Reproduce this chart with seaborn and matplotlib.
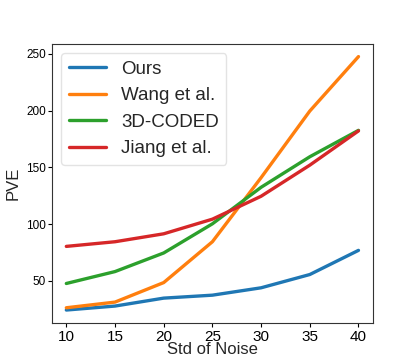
import numpy as np
import pandas as pd
import seaborn as sns
import matplotlib
matplotlib.use("Agg")
import matplotlib.pyplot as plt

noise = [10, 15, 20, 25, 30, 35, 40]
ours = [24.3, 27.8, 34.8, 37.4, 43.9, 55.6, 76.9]
wang = [26.3, 31.3, 48.5, 84.5, 141.0, 199.7, 247.7]
coded = [47.7, 58.2, 74.6, 100.3, 132.5, 159.4, 182.7]
jiang = [80.4, 84.5, 91.5, 104.4, 124.6, 152.0, 182.2]
methods = ["Ours", "Wang et al.", "3D-CODED", "Jiang et al."]

sns.set_style("ticks")
plt.rcParams['font.family'] = ['Liberation Sans', 'DejaVu Sans']

rows = []
for name, vals in zip(methods, [ours, wang, coded, jiang]):
    for x, v in zip(noise, vals):
        rows.append({"Std of Noise": x, "PVE": v, "Method": name})
df = pd.DataFrame(rows)

fig = plt.figure(figsize=(4.15, 3.63), dpi=100)
ax = fig.add_axes([0.1246, 0.111, 0.7744, 0.768])
sns.lineplot(data=df, x="Std of Noise", y="PVE", hue="Method", hue_order=methods,
             palette=["#1f77b4", "#ff7f0e", "#2ca02c", "#d62728"], linewidth=2.4, ax=ax)
ax.set_xticks(noise)
ax.tick_params(axis='x', labelsize=11, colors='black', length=3, pad=2)
ax.tick_params(axis='y', labelsize=8.5, colors='black', length=3, pad=1)
ax.set_xlabel("Std of Noise", fontsize=12, labelpad=-1)
ax.set_ylabel("PVE", fontsize=12, labelpad=4)
for s in ax.spines.values():
    s.set_color('#333333')
    s.set_visible(True)
leg = ax.legend(loc="upper left", fontsize=13.5, frameon=True)
leg.get_frame().set_edgecolor('#dddddd')
fig.savefig("out.png", dpi=100)
